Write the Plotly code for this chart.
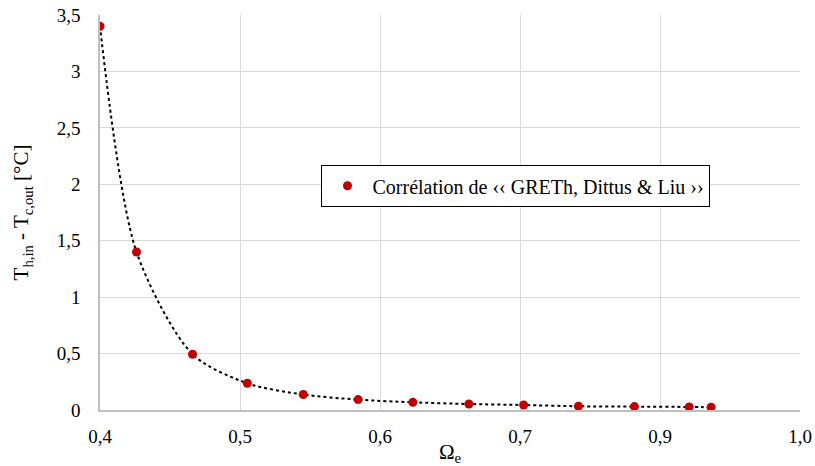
import plotly.graph_objects as go

# Data
omega_e = [0.400, 0.430, 0.476, 0.521, 0.567, 0.612, 0.657, 0.703, 0.748, 0.793, 0.839, 0.884, 0.902]
delta_t = [3.40, 1.40, 0.494, 0.237, 0.137, 0.092, 0.068, 0.053, 0.044, 0.033, 0.030, 0.027, 0.024]

x_tickvals = [0.4, 0.515, 0.63, 0.745, 0.86, 0.975]
x_ticktext = ["0,4", "0,5", "0,6", "0,7", "0,9", "1,0"]

series_name = "Corrélation de ‹‹ GRETh, Dittus & Liu ››"

FONT = "Times New Roman"

fig = go.Figure()
fig.add_trace(go.Scatter(
    x=omega_e, y=delta_t, mode="lines",
    line=dict(color="black", width=2, dash="dot", shape="spline", smoothing=0.8),
    showlegend=False, hoverinfo="skip",
))
fig.add_trace(go.Scatter(
    x=omega_e, y=delta_t, mode="markers",
    marker=dict(color="#C00000", size=9),
    name=series_name,
))

fig.update_layout(
    width=815, height=466,
    margin=dict(l=100, r=15, t=15, b=56, autoexpand=False),
    paper_bgcolor="white", plot_bgcolor="white",
    separators=",.",
    font=dict(family=FONT, size=20, color="black"),
    legend=dict(
        x=0.594, y=0.567, xanchor="center", yanchor="middle",
        bordercolor="black", borderwidth=1.2, bgcolor="white",
        font=dict(family=FONT, size=20, color="black"),
        itemwidth=40,
    ),
    xaxis=dict(
        range=[0.4, 0.975], tickvals=x_tickvals, ticktext=x_ticktext,
        showgrid=True, gridcolor="#d9d9d9", gridwidth=1,
        showline=True, linecolor="#bfbfbf", linewidth=1.5,
        ticks="", zeroline=False, automargin=False,
        tickfont=dict(family=FONT, size=19),
        ticklabelstandoff=8, ticklabeloverflow="allow",
        title=dict(text="Ω<sub>e</sub>", font=dict(family=FONT, size=21), standoff=0),
    ),
    yaxis=dict(
        range=[0, 3.5], dtick=0.5, tick0=0,
        showgrid=True, gridcolor="#d9d9d9", gridwidth=1,
        showline=True, linecolor="#bfbfbf", linewidth=1.5,
        ticks="", zeroline=False, automargin=False,
        tickfont=dict(family=FONT, size=19),
        ticklabelstandoff=14, ticklabeloverflow="allow",
        title=dict(text="T<sub>h,in</sub> - T<sub>c,out</sub> [°C]", font=dict(family=FONT, size=21), standoff=22),
    ),
)

# remove the default 8px page margin so the figure fills the window exactly
fig.write_html("out.html", config={"displayModeBar": False},
               post_script="document.body.style.margin='0';")
